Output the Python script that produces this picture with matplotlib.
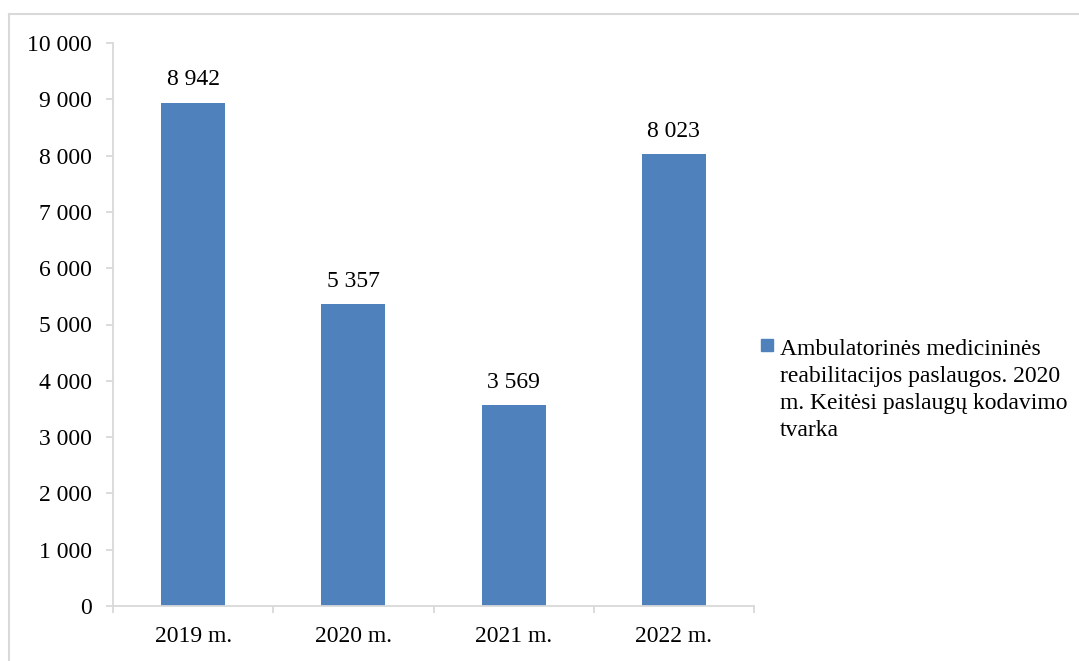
import matplotlib.pyplot as plt
from matplotlib.lines import Line2D
from matplotlib.patches import Rectangle
from matplotlib.ticker import FuncFormatter, FixedLocator

metai = ['2019 m.', '2020 m.', '2021 m.', '2022 m.']
paslaugos = [8942, 5357, 3569, 8023]
serijos_pavadinimas = ('Ambulatorinės medicininės\n'
                       'reabilitacijos paslaugos. 2020\n'
                       'm. Keitėsi paslaugų kodavimo\n'
                       'tvarka')

plt.rcParams['font.family'] = ['Liberation Serif', 'DejaVu Serif']
plt.rcParams['font.size'] = 17

spalva = '#4F81BD'
pilka = '#D9D9D9'
W, H = 1079, 661


def su_tarpais(x, pos=None):
    return f'{int(round(x)):,}'.replace(',', ' ')


fig = plt.figure(figsize=(W / 100, H / 100), dpi=100)
ax = fig.add_axes([113 / W, 1 - 606 / H, (754 - 113) / W, (606 - 43) / H])

x = list(range(len(metai)))
ax.bar(x, paslaugos, width=0.4, color=spalva)

for xi, v in zip(x, paslaugos):
    ax.annotate(su_tarpais(v), (xi, v), xytext=(0, 12.5), textcoords='offset points',
                ha='center', va='baseline')

ax.set_xlim(-0.5, len(metai) - 0.5)
ax.set_ylim(0, 10000)
ax.set_yticks(range(0, 10001, 1000))
ax.yaxis.set_major_formatter(FuncFormatter(su_tarpais))
ax.set_xticks(x)
ax.set_xticklabels(metai)
ax.xaxis.set_minor_locator(FixedLocator([i - 0.5 for i in range(len(metai) + 1)]))

for s in ['top', 'right']:
    ax.spines[s].set_visible(False)
for s in ['left', 'bottom']:
    ax.spines[s].set_color(pilka)
    ax.spines[s].set_linewidth(1.3)

ax.tick_params(axis='y', length=5, width=1.3, color=pilka, pad=10)
ax.tick_params(axis='x', which='major', length=0, pad=14.5)
ax.tick_params(axis='x', which='minor', length=5, width=1.3, color=pilka)

# legenda: kvadratėlis prie pirmos eilutės, kaip Excel'yje
fig.add_artist(Rectangle((761 / W, 1 - 351 / H), 12 / W, 12 / H,
                         transform=fig.transFigure, color=spalva))
# va='baseline' daugiaeilutei eilutei lygiuoja paskutinę eilutę
fig.text(780 / W, 1 - 436 / H, serijos_pavadinimas, ha='left', va='baseline',
         linespacing=1.38)

# rėmelis aplink diagramą
fig.add_artist(Line2D([9 / W, 9 / W], [0, 1 - 14 / H], transform=fig.transFigure,
                      color=pilka, lw=1.5))
fig.add_artist(Line2D([9 / W, 1], [1 - 14 / H, 1 - 14 / H], transform=fig.transFigure,
                      color=pilka, lw=1.5))

fig.savefig('out.png', dpi=100)
